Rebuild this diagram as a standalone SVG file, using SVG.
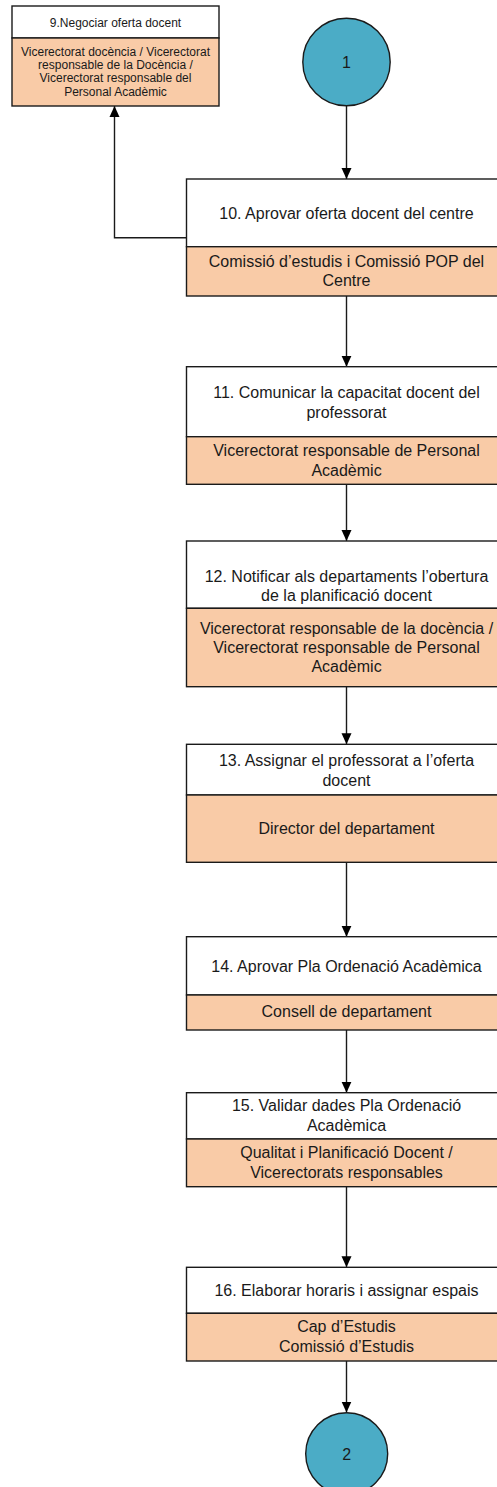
<svg xmlns="http://www.w3.org/2000/svg" width="497" height="1487" viewBox="0 0 497 1487">
<style>
.box{fill:#ffffff;stroke:#1a1a1a;stroke-width:1.4}
.role{fill:#F9CBA7;stroke:#1a1a1a;stroke-width:1.4}
.circ{fill:#4BACC6;stroke:#1a1a1a;stroke-width:1.4}
text{font-family:"Liberation Sans",Arial,sans-serif;fill:#1a1a1a;text-anchor:middle}
.t{font-size:16px}
.s{font-size:12px}
.c{font-size:16px}
.ln{fill:none;stroke:#1a1a1a;stroke-width:1.4}
</style>
<defs>
<marker id="arr" markerUnits="userSpaceOnUse" markerWidth="12" markerHeight="12" viewBox="0 0 12 12" refX="11" refY="6" orient="auto">
<path d="M0,1 L11,6 L0,11 z" fill="#000"/>
</marker>
</defs>
<g id="connectors">
<line class="ln" x1="346.5" y1="106" x2="346.5" y2="179" marker-end="url(#arr)"/>
<line class="ln" x1="346.5" y1="296" x2="346.5" y2="366.7" marker-end="url(#arr)"/>
<line class="ln" x1="346.5" y1="484.3" x2="346.5" y2="541" marker-end="url(#arr)"/>
<line class="ln" x1="346.5" y1="686.7" x2="346.5" y2="744.3" marker-end="url(#arr)"/>
<line class="ln" x1="346.5" y1="862.3" x2="346.5" y2="936.7" marker-end="url(#arr)"/>
<line class="ln" x1="346.5" y1="1030" x2="346.5" y2="1092.7" marker-end="url(#arr)"/>
<line class="ln" x1="346.5" y1="1186.7" x2="346.5" y2="1267.3" marker-end="url(#arr)"/>
<line class="ln" x1="346.5" y1="1361" x2="346.5" y2="1412.5" marker-end="url(#arr)"/>
<path class="ln" d="M186.5,237.7 H114.5 V106" marker-end="url(#arr)"/>
</g>
<g id="node9">
<rect class="box" x="12" y="6" width="207" height="32"/>
<rect class="role" x="12" y="38" width="207" height="68"/>
<text class="s" x="115.5" y="27">9.Negociar oferta docent</text>
<text class="s" x="115.5" y="55.7">Vicerectorat docència / Vicerectorat</text>
<text class="s" x="115.5" y="68.5">responsable de la Docència /</text>
<text class="s" x="115.5" y="81.8">Vicerectorat responsable del</text>
<text class="s" x="115.5" y="95.7">Personal Acadèmic</text>
</g>
<g id="start1">
<circle class="circ" cx="346.5" cy="62" r="43.7"/>
<text class="c" x="346.5" y="67.8">1</text>
</g>
<g id="node10">
<rect class="box" x="186.5" y="179" width="320" height="67.7"/>
<rect class="role" x="186.5" y="246.7" width="320" height="49.3"/>
<text class="t" x="346.5" y="218.5">10. Aprovar oferta docent del centre</text>
<text class="t" x="346.5" y="267.3">Comissió d’estudis i Comissió POP del</text>
<text class="t" x="346.5" y="285.8">Centre</text>
</g>
<g id="node11">
<rect class="box" x="186.5" y="366.7" width="320" height="70"/>
<rect class="role" x="186.5" y="436.7" width="320" height="47.6"/>
<text class="t" x="346.5" y="398.3">11. Comunicar la capacitat docent del</text>
<text class="t" x="346.5" y="418">professorat</text>
<text class="t" x="346.5" y="456.3">Vicerectorat responsable de Personal</text>
<text class="t" x="346.5" y="476.3">Acadèmic</text>
</g>
<g id="node12">
<rect class="box" x="186.5" y="541" width="320" height="67.3"/>
<rect class="role" x="186.5" y="608.3" width="320" height="78.4"/>
<text class="t" x="346.5" y="581.6">12. Notificar als departaments l’obertura</text>
<text class="t" x="346.5" y="600.6">de la planificació docent</text>
<text class="t" x="346.5" y="634">Vicerectorat responsable de la docència /</text>
<text class="t" x="346.5" y="653">Vicerectorat responsable de Personal</text>
<text class="t" x="346.5" y="672.3">Acadèmic</text>
</g>
<g id="node13">
<rect class="box" x="186.5" y="744.3" width="320" height="50.7"/>
<rect class="role" x="186.5" y="795" width="320" height="67.3"/>
<text class="t" x="346.5" y="765.6">13. Assignar el professorat a l’oferta</text>
<text class="t" x="346.5" y="785.6">docent</text>
<text class="t" x="346.5" y="834">Director del departament</text>
</g>
<g id="node14">
<rect class="box" x="186.5" y="936.7" width="320" height="58.3"/>
<rect class="role" x="186.5" y="995" width="320" height="35"/>
<text class="t" x="346.5" y="971.6">14. Aprovar Pla Ordenació Acadèmica</text>
<text class="t" x="346.5" y="1017.3">Consell de departament</text>
</g>
<g id="node15">
<rect class="box" x="186.5" y="1092.7" width="320" height="46.3"/>
<rect class="role" x="186.5" y="1139" width="320" height="47.7"/>
<text class="t" x="346.5" y="1110.6">15. Validar dades Pla Ordenació</text>
<text class="t" x="346.5" y="1130.6">Acadèmica</text>
<text class="t" x="346.5" y="1158.3">Qualitat i Planificació Docent /</text>
<text class="t" x="346.5" y="1178.3">Vicerectorats responsables</text>
</g>
<g id="node16">
<rect class="box" x="186.5" y="1267.3" width="320" height="46"/>
<rect class="role" x="186.5" y="1313.3" width="320" height="47.7"/>
<text class="t" x="346.5" y="1295.6">16. Elaborar horaris i assignar espais</text>
<text class="t" x="346.5" y="1332.3">Cap d’Estudis</text>
<text class="t" x="346.5" y="1352.3">Comissió d’Estudis</text>
</g>
<g id="end2">
<circle class="circ" cx="346.7" cy="1453.7" r="41"/>
<text class="c" x="346.7" y="1459.5">2</text>
</g>
</svg>
